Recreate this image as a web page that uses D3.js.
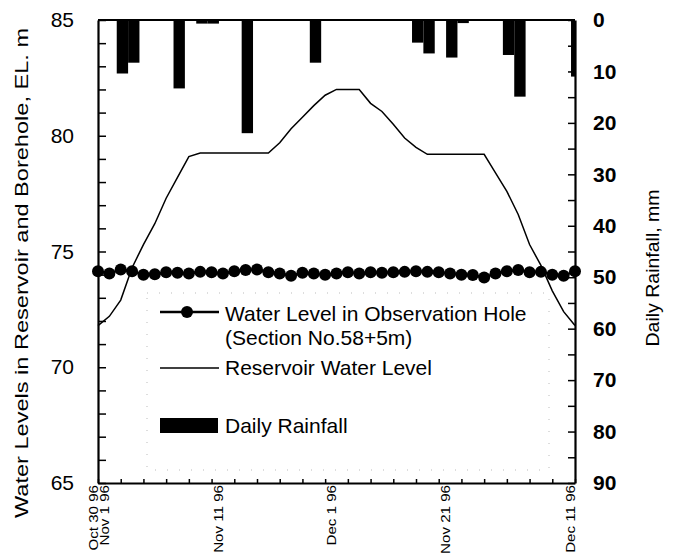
<!DOCTYPE html>
<html>
<head>
<meta charset="utf-8">
<script src="https://cdn.jsdelivr.net/npm/d3@7"></script>
<style>
  body { margin: 0; background: #fff; }
  text { font-family: 'Liberation Sans', Arial, sans-serif; fill: #000; }
</style>
</head>
<body>
<div id="chart"></div>
<script>
// one value per day, day 0 = Oct 30 96
const reservoirLevel = [
  71.8, 72.2, 72.9, 74.3, 75.3, 76.2, 77.3, 78.2, 79.1, 79.25,
  79.25, 79.25, 79.25, 79.25, 79.25, 79.25, 79.7, 80.3, 80.8, 81.3,
  81.75, 82.0, 82.0, 82.0, 81.4, 81.05, 80.5, 79.9, 79.5, 79.2,
  79.2, 79.2, 79.2, 79.2, 79.2, 78.4, 77.6, 76.6, 75.3, 74.4,
  73.3, 72.4, 71.8
]
const holeLevel = [
  74.15, 74.05, 74.22, 74.15, 74.0, 74.02, 74.1, 74.08, 74.05, 74.12,
  74.1, 74.05, 74.15, 74.2, 74.22, 74.1, 74.05, 73.95, 74.08, 74.05,
  74.0, 74.05, 74.1, 74.05, 74.1, 74.08, 74.1, 74.12, 74.15, 74.12,
  74.1, 74.05, 74.0, 73.98, 73.88, 74.05, 74.15, 74.2, 74.1, 74.12,
  74.0, 73.95, 74.15
]
const rainDays = [2, 3, 7, 9, 10, 13, 19, 28, 29, 31, 32, 36, 37, 42]
const rainMm = [10.4, 8.3, 13.3, 0.7, 0.7, 22.0, 8.3, 4.4, 6.5, 7.3, 0.6, 6.8, 14.9, 11.0]

const xTickDays = [0, 1, 11, 21, 31, 42]
const xTickLabels = ['Oct 30 96', 'Nov 1 96', 'Nov 11 96', 'Dec 1 96', 'Nov 21 96', 'Dec 11 96']
const levelTicks = [65, 70, 75, 80, 85]
const rainTicks = [0, 10, 20, 30, 40, 50, 60, 70, 80, 90]

const margin = { top: 20, left: 98, right: 98, bottom: 71 }
const width = 673 - margin.left - margin.right
const height = 554 - margin.top - margin.bottom

const svg = d3
  .select('#chart')
  .append('svg')
  .attr('width', 673)
  .attr('height', 554)
  .append('g')
  .attr('transform', 'translate(' + margin.left + ',' + margin.top + ')')

const xPositionScale = d3.scaleLinear().domain([0, 42]).range([0, width])
const yLevelScale = d3.scaleLinear().domain([65, 85]).range([height, 0])
const yRainScale = d3.scaleLinear().domain([0, 90]).range([0, height])

svg.append('clipPath').attr('id', 'plot-clip')
  .append('rect').attr('width', width).attr('height', height)

// rainfall bars hang from the top
const dayWidth = xPositionScale(1) - xPositionScale(0)
svg.append('g')
  .attr('clip-path', 'url(#plot-clip)')
  .selectAll('rect')
  .data(rainDays)
  .enter()
  .append('rect')
  .attr('x', d => xPositionScale(d - 0.35))
  .attr('width', dayWidth)
  .attr('y', 0)
  .attr('height', (d, i) => yRainScale(rainMm[i]))
  .attr('fill', '#000')

// faint legend frame
svg.append('rect')
  .attr('x', 49).attr('y', 273).attr('width', 402).attr('height', 177)
  .attr('fill', 'none').attr('stroke', '#bbb').attr('stroke-width', 1)
  .attr('stroke-dasharray', '1,11')

// reservoir level
const line = d3.line()
  .x((d, i) => xPositionScale(i))
  .y(d => yLevelScale(d))

svg.append('path')
  .datum(reservoirLevel)
  .attr('d', line)
  .attr('fill', 'none')
  .attr('stroke', '#000')
  .attr('stroke-width', 1.5)

// observation hole
svg.append('path')
  .datum(holeLevel)
  .attr('d', line)
  .attr('fill', 'none')
  .attr('stroke', '#000')
  .attr('stroke-width', 2.5)

svg.selectAll('.hole')
  .data(holeLevel)
  .enter()
  .append('circle')
  .attr('class', 'hole')
  .attr('cx', (d, i) => xPositionScale(i))
  .attr('cy', d => yLevelScale(d))
  .attr('r', 6)
  .attr('fill', '#000')

// axes
function styleAxis(g, w) {
  g.select('.domain').attr('stroke', '#000').attr('stroke-width', w)
  g.selectAll('.tick line').attr('stroke', '#000').attr('stroke-width', 1.5)
}

svg.append('g')
  .attr('transform', 'translate(0,' + height + ')')
  .call(d3.axisBottom(xPositionScale).tickValues(d3.range(0, 43, 2)).tickSize(-4).tickSizeOuter(0).tickFormat(''))
  .call(g => styleAxis(g, 2.2))

svg.append('g')
  .selectAll('text')
  .data(xTickDays)
  .enter()
  .append('text')
  .attr('transform', d => 'translate(' + (xPositionScale(d) - 5) + ',' + (height + 2) + ') rotate(-90) scale(1.12,1)')
  .attr('text-anchor', 'end')
  .attr('dy', '0.35em')
  .style('font-size', '13.5px')
  .text((d, i) => xTickLabels[i])

svg.append('line')
  .attr('x1', 0).attr('x2', width).attr('y1', 0).attr('y2', 0)
  .attr('stroke', '#000').attr('stroke-width', 2)

svg.append('g')
  .call(d3.axisLeft(yLevelScale).ticks(20).tickSize(-8).tickSizeOuter(0).tickFormat(''))
  .call(g => styleAxis(g, 2.2))

svg.append('g')
  .call(d3.axisLeft(yLevelScale).tickValues(levelTicks).tickSize(0).tickPadding(24))
  .call(g => g.select('.domain').remove())
  .selectAll('text')
  .style('font-size', '21px')
  .style('font-family', "'Liberation Sans', Arial, sans-serif")

svg.append('g')
  .attr('transform', 'translate(' + width + ',0)')
  .call(d3.axisRight(yRainScale).ticks(18).tickSize(-7).tickSizeOuter(0).tickFormat(''))
  .call(g => styleAxis(g, 2.2))

svg.append('g')
  .attr('transform', 'translate(' + width + ',0)')
  .call(d3.axisRight(yRainScale).tickValues(rainTicks).tickSize(0).tickPadding(18))
  .call(g => g.select('.domain').remove())
  .selectAll('text')
  .style('font-size', '21px')
  .style('font-weight', 'bold')
  .style('font-family', "'Liberation Sans', Arial, sans-serif")

// axis titles
svg.append('text')
  .attr('transform', 'translate(' + (28 - margin.left) + ',' + (273 - margin.top) + ') rotate(-90)')
  .attr('text-anchor', 'middle')
  .attr('textLength', 490)
  .attr('lengthAdjust', 'spacingAndGlyphs')
  .style('font-size', '19px')
  .text('Water Levels in Reservoir and Borehole, EL. m')

svg.append('text')
  .attr('transform', 'translate(' + (659 - margin.left) + ',' + (268 - margin.top) + ') rotate(-90)')
  .attr('text-anchor', 'middle')
  .attr('textLength', 157)
  .attr('lengthAdjust', 'spacingAndGlyphs')
  .style('font-size', '18px')
  .text('Daily Rainfall, mm')

// legend
const legend = svg.append('g').attr('transform', 'translate(' + (160 - margin.left) + ',0)')
const legendX = 225 - 160

legend.append('line')
  .attr('x1', 0).attr('x2', 59).attr('y1', 292).attr('y2', 292)
  .attr('stroke', '#000').attr('stroke-width', 2.5)
legend.append('circle').attr('cx', 27).attr('cy', 292).attr('r', 6).attr('fill', '#000')
legend.append('text').attr('x', legendX).attr('y', 301).style('font-size', '21px')
  .text('Water Level in Observation Hole')
legend.append('text').attr('x', legendX).attr('y', 325).style('font-size', '21px')
  .text('(Section No.58+5m)')

legend.append('line')
  .attr('x1', 0).attr('x2', 59).attr('y1', 348).attr('y2', 348)
  .attr('stroke', '#000').attr('stroke-width', 1.4)
legend.append('text').attr('x', legendX).attr('y', 355).style('font-size', '21px')
  .text('Reservoir Water Level')

legend.append('rect')
  .attr('x', 0).attr('y', 398).attr('width', 58).attr('height', 15).attr('fill', '#000')
legend.append('text').attr('x', legendX).attr('y', 413).style('font-size', '21px')
  .text('Daily Rainfall')
</script>
</body>
</html>
